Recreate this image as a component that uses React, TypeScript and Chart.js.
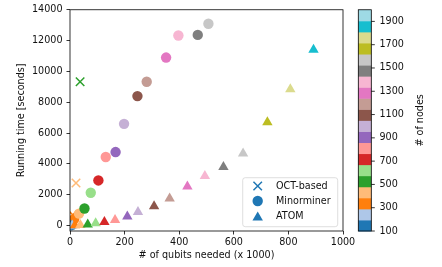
import { useEffect, useRef } from "react";
import { Chart, registerables } from "chart.js";

Chart.register(...registerables);

const TAB20 = [
  "#1f77b4", "#aec7e8", "#ff7f0e", "#ffbb78", "#2ca02c", "#98df8a",
  "#d62728", "#ff9896", "#9467bd", "#c5b0d5", "#8c564b", "#c49c94",
  "#e377c2", "#f7b6d2", "#7f7f7f", "#c7c7c7", "#bcbd22", "#dbdb8d",
  "#17becf", "#9edae5",
];

// OCT-based
const octNodes = [100, 200, 300, 400, 500];
const octQubits = [1, 3, 10, 22, 37];
const octTime = [30, 120, 700, 2760, 9330];

// Minorminer
const mmNodes = [100, 200, 300, 400, 500, 600, 700, 800, 900, 1000, 1100, 1200, 1300, 1400, 1500, 1600];
const mmQubits = [2, 5, 15, 33, 53, 76, 104, 131, 167, 198, 247, 281, 352, 397, 468, 507];
const mmTime = [20, 100, 420, 780, 1110, 2130, 2930, 4450, 4770, 6600, 8400, 9330, 10900, 12330, 12370, 13090];

// ATOM
const atomNodes = [100, 200, 300, 400, 500, 600, 700, 800, 900, 1000, 1100, 1200, 1300, 1400, 1500, 1600, 1700, 1800, 1900];
const atomQubits = [3, 8, 18, 38, 65, 94, 126, 165, 210, 249, 308, 365, 430, 494, 562, 634, 723, 807, 892];
const atomTime = [5, 10, 25, 40, 65, 150, 240, 370, 590, 890, 1260, 1760, 2540, 3210, 3800, 4670, 6710, 8840, 11400];

const seriesLabels = ["OCT-based", "Minorminer", "ATOM"];
const xTicks = [0, 200, 400, 600, 800, 1000];
const yTicks = [0, 2000, 4000, 6000, 8000, 10000, 12000, 14000];
const cbTicks = [100, 300, 500, 700, 900, 1100, 1300, 1500, 1700, 1900];
const CB_MIN = 100;
const CB_MAX = 2000;

const FONT = "'DejaVu Sans', sans-serif";
const FS = 9.6;
const TXT = "#111";

function colorFor(n: number) {
  const i = Math.min(19, Math.max(0, Math.floor(((n - CB_MIN) / (CB_MAX - CB_MIN)) * 20)));
  return TAB20[i];
}

function pts(xs: number[], ys: number[]) {
  return xs.map((x, i) => ({ x, y: ys[i] }));
}

const framePlugin = {
  id: "frame",
  afterDatasetsDraw(chart: any) {
    const { ctx, chartArea: a } = chart;
    ctx.save();
    ctx.strokeStyle = "#000";
    ctx.lineWidth = 0.8;
    ctx.strokeRect(a.left, a.top, a.right - a.left, a.bottom - a.top);
    ctx.restore();
  },
};

const colorbarPlugin = {
  id: "colorbar",
  afterDraw(chart: any) {
    const { ctx, chartArea: a } = chart;
    const left = a.right + 15.3;
    const right = a.right + 28.3;
    const top = a.top;
    const bottom = a.bottom;
    const yFor = (v: number) => bottom - ((v - CB_MIN) / (CB_MAX - CB_MIN)) * (bottom - top);
    ctx.save();
    for (let i = 0; i < 20; i++) {
      const v0 = CB_MIN + ((CB_MAX - CB_MIN) * i) / 20;
      const v1 = CB_MIN + ((CB_MAX - CB_MIN) * (i + 1)) / 20;
      const y0 = yFor(v0);
      const y1 = yFor(v1);
      ctx.fillStyle = TAB20[i];
      ctx.fillRect(left, y1, right - left, y0 - y1 + 0.5);
    }
    ctx.strokeStyle = "#000";
    ctx.lineWidth = 0.8;
    ctx.strokeRect(left, top, right - left, bottom - top);
    ctx.font = `${FS}px ${FONT}`;
    ctx.fillStyle = TXT;
    ctx.textAlign = "left";
    ctx.textBaseline = "middle";
    for (const t of cbTicks) {
      const y = yFor(t);
      ctx.beginPath();
      ctx.moveTo(right, y);
      ctx.lineTo(right + 3.5, y);
      ctx.stroke();
      ctx.fillText(String(t), right + 8.2, y);
    }
    ctx.translate(a.right + 77.7, (top + bottom) / 2);
    ctx.rotate(-Math.PI / 2);
    ctx.textAlign = "center";
    ctx.fillText("# of nodes", 0, 0);
    ctx.restore();
  },
};

function drawMarker(ctx: CanvasRenderingContext2D, style: string, x: number, y: number, r: number, color: string) {
  ctx.save();
  ctx.fillStyle = color;
  ctx.strokeStyle = color;
  ctx.beginPath();
  if (style === "crossRot") {
    const d = r * Math.SQRT1_2;
    ctx.lineWidth = 1.5;
    ctx.moveTo(x - d, y - d);
    ctx.lineTo(x + d, y + d);
    ctx.moveTo(x - d, y + d);
    ctx.lineTo(x + d, y - d);
    ctx.stroke();
  } else if (style === "circle") {
    ctx.arc(x, y, r, 0, Math.PI * 2);
    ctx.fill();
  } else {
    const h = r * 0.75;
    ctx.moveTo(x, y - h);
    ctx.lineTo(x - r * 0.87, y + h);
    ctx.lineTo(x + r * 0.87, y + h);
    ctx.closePath();
    ctx.fill();
  }
  ctx.restore();
}

const legendPlugin = {
  id: "boxLegend",
  afterDraw(chart: any) {
    const { ctx, chartArea: a } = chart;
    const bx = a.right - 100.3;
    const by = a.bottom - 53.3;
    const bw = 95;
    const bh = 49;
    ctx.save();
    ctx.beginPath();
    const rr = 2.5;
    ctx.moveTo(bx + rr, by);
    ctx.lineTo(bx + bw - rr, by);
    ctx.quadraticCurveTo(bx + bw, by, bx + bw, by + rr);
    ctx.lineTo(bx + bw, by + bh - rr);
    ctx.quadraticCurveTo(bx + bw, by + bh, bx + bw - rr, by + bh);
    ctx.lineTo(bx + rr, by + bh);
    ctx.quadraticCurveTo(bx, by + bh, bx, by + bh - rr);
    ctx.lineTo(bx, by + rr);
    ctx.quadraticCurveTo(bx, by, bx + rr, by);
    ctx.closePath();
    ctx.fillStyle = "rgba(255,255,255,0.8)";
    ctx.fill();
    ctx.strokeStyle = "rgba(204,204,204,0.8)";
    ctx.lineWidth = 0.8;
    ctx.stroke();
    const styles = ["crossRot", "circle", "triangle"];
    const radii = [6, 5.2, 6];
    ctx.font = `${FS}px ${FONT}`;
    ctx.textAlign = "left";
    ctx.textBaseline = "middle";
    chart.data.datasets.forEach((ds: any, i: number) => {
      const y = by + 8.3 + i * 15;
      drawMarker(ctx, styles[i], bx + 15, y, radii[i], TAB20[0]);
      ctx.fillStyle = TXT;
      ctx.fillText(ds.label, bx + 33.3, y);
    });
    ctx.restore();
  },
};

export default function App() {
  const ref = useRef<HTMLCanvasElement | null>(null);
  useEffect(() => {
    document.body.style.margin = "0";
    const canvas = ref.current!;
    const tickOpts = { font: { family: FONT, size: FS }, color: TXT };
    const chart = new Chart(canvas, {
      type: "scatter",
      data: {
        datasets: [
          {
            label: seriesLabels[0],
            data: pts(octQubits, octTime),
            pointStyle: "crossRot",
            pointRadius: 6,
            pointBorderWidth: 1.5,
            pointBorderColor: octNodes.map(colorFor),
            pointBackgroundColor: octNodes.map(colorFor),
            order: 2,
          },
          {
            label: seriesLabels[1],
            data: pts(mmQubits, mmTime),
            pointStyle: "circle",
            pointRadius: 5.2,
            pointBorderWidth: 0,
            pointBackgroundColor: mmNodes.map(colorFor),
            pointBorderColor: mmNodes.map(colorFor),
            order: 1,
          },
          {
            label: seriesLabels[2],
            data: pts(atomQubits, atomTime),
            pointStyle: "triangle",
            pointRadius: 6,
            pointBorderWidth: 0,
            pointBackgroundColor: atomNodes.map(colorFor),
            pointBorderColor: atomNodes.map(colorFor),
            order: 0,
          },
        ],
      },
      options: {
        responsive: false,
        animation: false,
        devicePixelRatio: 1,
        layout: { padding: { top: 9, right: 99, left: 0, bottom: 0 } },
        plugins: {
          legend: { display: false },
          tooltip: { enabled: false },
        },
        scales: {
          x: {
            type: "linear",
            min: 0,
            max: 1000,
            afterBuildTicks: (s: any) => {
              s.ticks = xTicks.map((v) => ({ value: v }));
            },
            afterFit: (s: any) => {
              s.height = 36;
            },
            ticks: { ...tickOpts, padding: 2.5, maxRotation: 0, callback: (v: any) => String(v) },
            grid: { display: true, drawOnChartArea: false, drawTicks: true, tickLength: 3.5, color: "#000", lineWidth: 0.8 },
            border: { display: false },
            title: {
              display: true,
              text: "# of qubits needed (x 1000)",
              font: { family: FONT, size: FS },
              color: TXT,
              padding: { top: 0, bottom: 5.5 },
            },
          },
          y: {
            type: "linear",
            min: -350,
            max: 14000,
            afterBuildTicks: (s: any) => {
              s.ticks = yTicks.map((v) => ({ value: v }));
            },
            afterFit: (s: any) => {
              s.width = 70;
            },
            ticks: { ...tickOpts, padding: 4, callback: (v: any) => String(v) },
            grid: { display: true, drawOnChartArea: false, drawTicks: true, tickLength: 3.5, color: "#000", lineWidth: 0.8 },
            border: { display: false },
            title: {
              display: true,
              text: "Running time [seconds]",
              font: { family: FONT, size: FS },
              color: TXT,
              padding: { top: 16, bottom: 0 },
            },
          },
        },
      },
      plugins: [framePlugin, colorbarPlugin, legendPlugin],
    } as any);
    return () => chart.destroy();
  }, []);
  return (
    <div style={{ position: "absolute", left: 0, top: 0, width: 442, height: 267 }}>
      <canvas ref={ref} width={442} height={267} style={{ width: 442, height: 267 }} />
    </div>
  );
}
